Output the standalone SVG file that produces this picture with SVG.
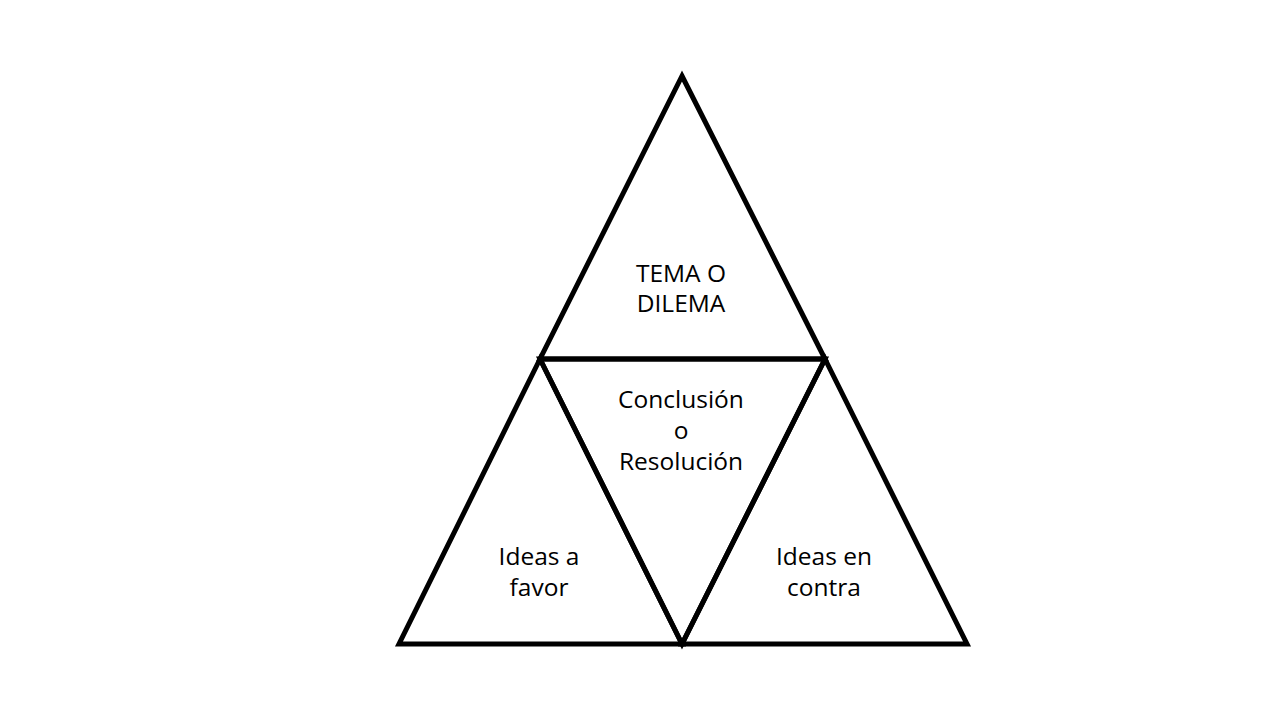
<svg xmlns="http://www.w3.org/2000/svg" width="1280" height="720" viewBox="0 0 1280 720">
<style>
.tri{fill:none;stroke:#000;stroke-width:5;stroke-linejoin:miter;stroke-miterlimit:10}
text{font-family:"Open Sans","Noto Sans",sans-serif;font-size:24.5px;fill:#000;text-anchor:middle}
</style>
<rect width="1280" height="720" fill="#fff"/>
<g id="tema">
<polygon class="tri" points="682,76 825,359 540,359"/>
<text x="681" y="282">TEMA O</text>
<text x="681" y="312">DILEMA</text>
</g>
<g id="conclusion">
<polygon class="tri" points="540,359 825,359 682,644"/>
<text x="681" y="408">Conclusión</text>
<text x="681" y="439">o</text>
<text x="681" y="470">Resolución</text>
</g>
<g id="favor">
<polygon class="tri" points="540,359 682,644 399,644"/>
<text x="539" y="565">Ideas a</text>
<text x="539" y="596">favor</text>
</g>
<g id="contra">
<polygon class="tri" points="825,359 967,644 682,644"/>
<text x="824" y="565">Ideas en</text>
<text x="824" y="596">contra</text>
</g>
<g id="connectors"></g>
</svg>
